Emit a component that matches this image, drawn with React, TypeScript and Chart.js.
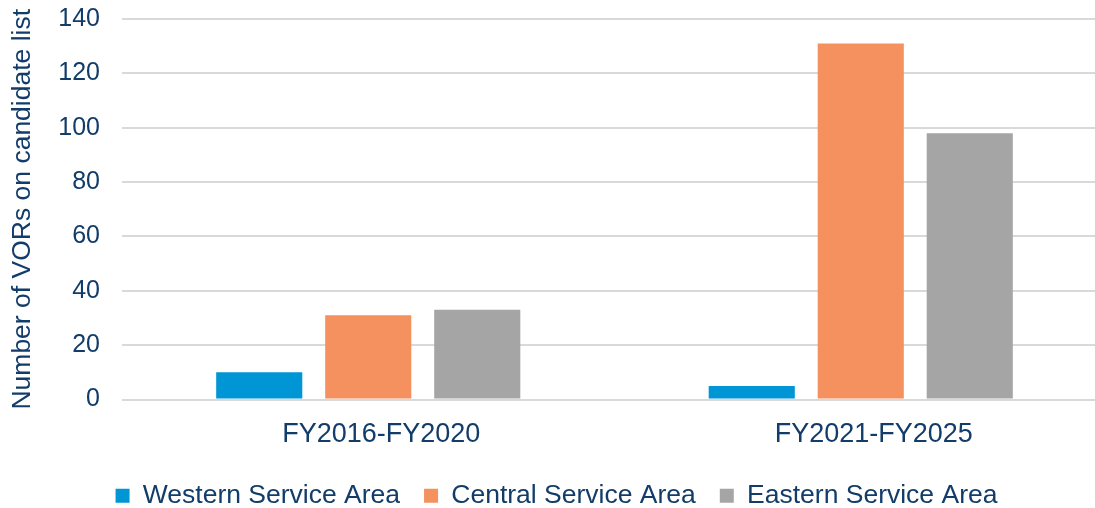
import React, { useEffect, useRef } from "react";
import { Chart, registerables } from "chart.js";

Chart.register(...registerables);

const categories = ["FY2016-FY2020", "FY2021-FY2025"];
const seriesNames = ["Western Service Area", "Central Service Area", "Eastern Service Area"];
const westernValues = [10, 5];
const centralValues = [31, 131];
const easternValues = [33, 98];
const seriesColors = ["#0096D6", "#F4915E", "#A5A5A5"];
const yTicksMax = 140;
const yTickStep = 20;
const yAxisTitle = "Number of VORs on candidate list";

const FONT = "'Liberation Sans', Arial, sans-serif";
const TEXT = "#123c69";

export default function App() {
  const ref = useRef<HTMLCanvasElement | null>(null);

  useEffect(() => {
    if (!ref.current) return;
    const values = [westernValues, centralValues, easternValues];
    const chart = new Chart(ref.current, {
      type: "bar",
      data: {
        labels: categories,
        datasets: seriesNames.map((name, i) => ({
          label: name,
          data: values[i],
          backgroundColor: seriesColors[i],
          borderWidth: 0,
          categoryPercentage: 0.664,
          barPercentage: 0.79,
        })),
      },
      options: {
        responsive: false,
        animation: false,
        layout: { padding: { top: 19, right: 1, left: 6, bottom: -11 } },
        plugins: {
          tooltip: { enabled: false },
          legend: {
            position: "bottom",
            labels: {
              font: { family: FONT, size: 26.5 },
              color: TEXT,
              boxWidth: 14,
              boxHeight: 14,
              padding: 24,
            },
          },
        },
        scales: {
          x: {
            grid: { display: false, drawTicks: false },
            border: { display: false },
            ticks: { font: { family: FONT, size: 27 }, color: TEXT, padding: 19, labelOffset: 13 },
            afterFit: (axis: any) => {
              axis.height = 59;
            },
          },
          y: {
            min: 0,
            max: yTicksMax,
            ticks: { stepSize: yTickStep, font: { family: FONT, size: 25 }, color: TEXT, padding: 22 },
            grid: { color: "#D9D9D9", lineWidth: 2, drawTicks: false },
            border: { display: false },
            title: { display: true, text: yAxisTitle, font: { family: FONT, size: 26.5 }, color: TEXT, padding: { top: 1, bottom: 0 } },
            afterFit: (axis: any) => {
              axis.width = 116;
              axis.paddingTop = 0;
              axis.paddingBottom = 0;
            },
          },
        },
      },
    });
    return () => chart.destroy();
  }, []);

  return (
    <div style={{ position: "fixed", left: 0, top: 0, width: 1095, height: 508, overflow: "hidden", background: "#fff" }}>
      <canvas ref={ref} width={1108} height={508} style={{ width: 1108, height: 508, display: "block" }} />
    </div>
  );
}
